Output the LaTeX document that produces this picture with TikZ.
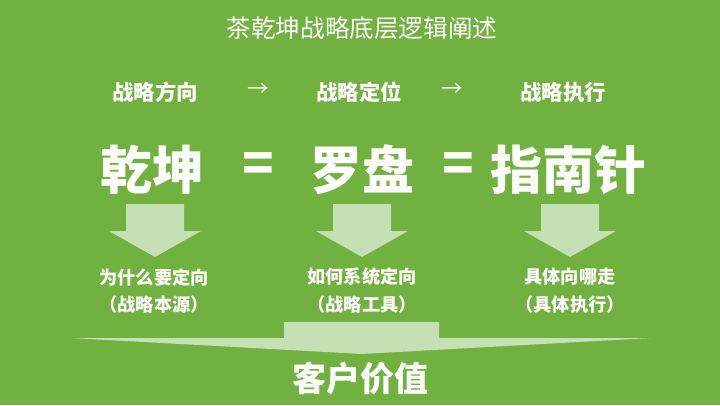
\documentclass[tikz,border=0pt]{standalone}
\usepackage{fontspec}
\setmainfont{Noto Sans CJK SC}
\newfontfamily\cjk{Noto Sans CJK SC}
\definecolor{bggreen}{HTML}{70B13F}
\definecolor{lightgreen}{HTML}{C5E0B4}
\begin{document}
\begin{tikzpicture}[x=1pt,y=-1pt,
  txt/.style={text=white,inner sep=0pt,font=\cjk},
  heading/.style={txt,font=\cjk\fontsize{24.6}{26}\selectfont},
  stagelbl/.style={txt,font=\cjk\bfseries\fontsize{21.4}{24}\selectfont},
  arrowlbl/.style={txt,font=\cjk\fontsize{21.4}{24}\selectfont},
  biglbl/.style={txt,font=\cjk\bfseries\fontsize{52}{56}\selectfont},
  desclbl/.style={txt,font=\cjk\bfseries\fontsize{18.2}{20}\selectfont},
  valuelbl/.style={txt,font=\cjk\bfseries\fontsize{34}{36}\selectfont},
  arrowshape/.style={fill=lightgreen,draw=none}]
\fill[bggreen] (0,0) rectangle (720,405);
\useasboundingbox (0,0) rectangle (720,405);
% title
\node[heading] (title) at (362,28) {茶乾坤战略底层逻辑阐述};
% stage row
\node[stagelbl] (s1) at (155,92) {战略方向};
\node[arrowlbl] (a1) at (258,90) {→};
\node[stagelbl] (s2) at (359,92) {战略定位};
\node[arrowlbl] (a2) at (452,90) {→};
\node[stagelbl] (s3) at (563,92) {战略执行};
% big row
\node[biglbl] (b1) at (152,170) {乾坤};
\node[biglbl] (e1) at (258,168) {=};
\node[biglbl] (b2) at (362,170) {罗盘};
\node[biglbl] (e2) at (458,168) {=};
\node[biglbl] (b3) at (568,170) {指南针};
% down arrows
\foreach \c in {155,362,570}{
  \fill[arrowshape] (\c-29,204) -- (\c+29,204) -- (\c+29,231) -- (\c+46,231)
    -- (\c,257) -- (\c-46,231) -- (\c-29,231) -- cycle;
}
% descriptions
\node[desclbl] (d1) at (154,277) {为什么要定向};
\node[desclbl] (d1b) at (154,305) {（战略本源）};
\node[desclbl] (d2) at (362,277) {如何系统定向};
\node[desclbl] (d2b) at (362,305) {（战略工具）};
\node[desclbl] (d3) at (570,277) {具体向哪走};
\node[desclbl] (d3b) at (570,305) {（具体执行）};
% bottom arrow
\fill[arrowshape] (284,322) -- (439,322) -- (439,338) -- (651,338) -- (362,354)
  -- (71,338) -- (284,338) -- cycle;
\node[valuelbl] (cv) at (360,378) {客户价值};
\end{tikzpicture}
\end{document}
